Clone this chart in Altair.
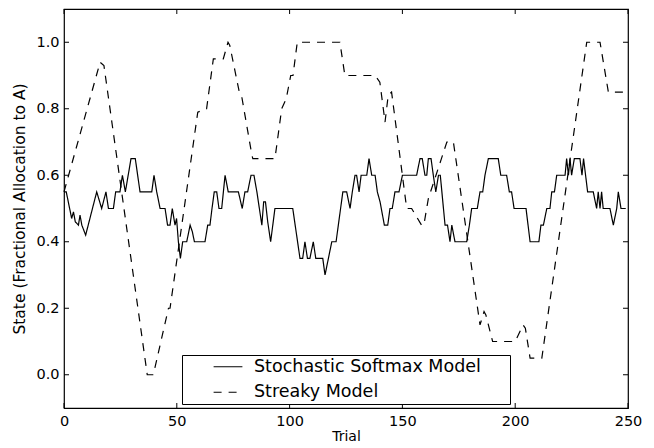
import altair as alt
import pandas as pd

# ---- data ----
series_names = ["Stochastic Softmax Model", "Streaky Model"]

softmax_trial = [0, 1, 2.5, 3.4, 4.2, 5, 6.4, 7.1, 7.9, 9.6, 14.5, 16.7, 18.6, 19.7, 21.9, 22.9,
                 24.8, 25.9, 27.2, 29.7, 31.6, 33.7, 38.9, 39.9, 41.1, 42.6, 44.8, 45.9, 47.0,
                 48.0, 49.2, 49.9, 50.7, 51.6, 52.6, 54.4, 55.9, 56.9, 57.8, 62.5, 63.7, 64.7,
                 65.6, 66.6, 67.7, 68.7, 69.9, 71.4, 72.8, 77.3, 79.0, 80.2, 81.4, 82.9, 84.2,
                 85.5, 86.6, 87.7, 88.5, 89.3, 90.3, 91.6, 93.5, 101.4, 104.6, 105.8, 106.8,
                 107.9, 109.0, 110.5, 111.6, 112.8, 114.7, 115.7, 117.2, 118.7, 120.6, 121.6,
                 123.6, 125.3, 126.8, 127.8, 129.0, 129.7, 130.8, 131.7, 134.2, 135.2, 136.4,
                 137.9, 138.9, 140.1, 142.0, 143.5, 144.5, 145.5, 146.7, 148.5, 150.0, 156.3,
                 157.8, 158.8, 160.0, 160.8, 161.5, 162.7, 163.7, 164.8, 166.0, 166.8, 168.2,
                 168.9, 170.0, 171.1, 171.9, 173.3, 178.5, 179.7, 180.7, 183.2, 184.4, 185.6,
                 186.6, 188.1, 192.5, 193.6, 196.2, 197.4, 198.4, 199.5, 204.8, 206.6, 210.5,
                 211.4, 212.5, 214.0, 215.4, 216.2, 217.4, 218.4, 222.1, 222.8, 223.6, 224.3,
                 225.0, 226.2, 228.7, 229.6, 230.3, 231.2, 232.1, 234.6, 236.1, 236.8, 237.6,
                 238.3, 239.0, 242.0, 243.5, 245.0, 245.7, 246.9, 249.0]
softmax_value = [0.55, 0.55, 0.50, 0.47, 0.49, 0.46, 0.45, 0.48, 0.45, 0.42, 0.55, 0.50, 0.55, 0.50, 0.50, 0.55,
                 0.55, 0.60, 0.55, 0.65, 0.65, 0.55, 0.55, 0.60, 0.55, 0.50, 0.50, 0.45, 0.45,
                 0.50, 0.45, 0.47, 0.40, 0.35, 0.40, 0.40, 0.45, 0.43, 0.40, 0.40, 0.45, 0.45,
                 0.50, 0.55, 0.55, 0.50, 0.50, 0.60, 0.55, 0.55, 0.50, 0.55, 0.55, 0.60, 0.60,
                 0.55, 0.50, 0.45, 0.52, 0.52, 0.46, 0.40, 0.50, 0.50, 0.35, 0.35, 0.40,
                 0.35, 0.35, 0.40, 0.35, 0.35, 0.35, 0.30, 0.35, 0.40, 0.40, 0.45,
                 0.55, 0.55, 0.50, 0.55, 0.60, 0.60, 0.55, 0.60, 0.60, 0.65, 0.60,
                 0.60, 0.55, 0.52, 0.45, 0.45, 0.50, 0.50, 0.55, 0.55, 0.60, 0.60,
                 0.65, 0.65, 0.60, 0.60, 0.65, 0.65, 0.60, 0.55, 0.60, 0.60, 0.50,
                 0.45, 0.45, 0.40, 0.45, 0.40, 0.40, 0.45, 0.50, 0.50, 0.55, 0.55,
                 0.60, 0.65, 0.65, 0.60, 0.60, 0.55, 0.55, 0.50, 0.50, 0.40, 0.40,
                 0.45, 0.45, 0.50, 0.50, 0.55, 0.55, 0.60, 0.60, 0.65, 0.60, 0.65,
                 0.60, 0.65, 0.65, 0.60, 0.65, 0.60, 0.55, 0.55, 0.50, 0.55, 0.50,
                 0.55, 0.50, 0.50, 0.45, 0.50, 0.55, 0.50, 0.50]

streaky_trial = [0, 16.0, 17.7, 36.9, 39.6, 46.3, 47.0, 59.3, 63.2, 66.2, 70.6, 72.7, 73.5, 77.7,
                 78.7, 83.3, 83.7, 93.5, 96.5, 98.5, 100.5, 101.5, 103.4, 122.3, 124.5, 137.9,
                 140.0, 142.3, 143.7, 145.2, 151.9, 154.1, 158.5, 159.5, 161.5, 167.3, 169.7,
                 172.6, 184.4, 186.2, 187.0, 190.0, 200.0, 203.5, 204.5, 206.6, 211.8, 231.7,
                 237.6, 241.3, 249.0]
streaky_value = [0.55, 0.94, 0.93, 0.00, 0.00, 0.20, 0.20, 0.79, 0.80, 0.95, 0.95, 1.00, 0.99, 0.85,
                 0.84, 0.66, 0.65, 0.65, 0.80, 0.83, 0.90, 0.90, 1.00, 1.00, 0.90, 0.90,
                 0.88, 0.76, 0.84, 0.85, 0.50, 0.50, 0.45, 0.45, 0.53, 0.65, 0.70,
                 0.70, 0.15, 0.19, 0.18, 0.10, 0.10, 0.15, 0.14, 0.05, 0.05, 1.00,
                 1.00, 0.85, 0.85]

x_ticks = [0, 50, 100, 150, 200, 250]
y_ticks = [0.0, 0.2, 0.4, 0.6, 0.8, 1.0]

W, H = 564, 399
FONT = "DejaVu Sans"

df = pd.concat([
    pd.DataFrame({"trial": softmax_trial, "value": softmax_value, "series": series_names[0]}),
    pd.DataFrame({"trial": streaky_trial, "value": streaky_value, "series": series_names[1]}),
], ignore_index=True)

xscale = alt.Scale(domain=[0, 250], nice=False, zero=False)
yscale = alt.Scale(domain=[-0.1, 1.1], nice=False, zero=False)

xaxis = alt.Axis(values=x_ticks, title="Trial", ticks=False, tickSize=0, grid=False,
                 labelPadding=6, titlePadding=2, domain=False, labelFlush=False,
                 labelFontSize=14.5, titleFontSize=14, labelFont=FONT, titleFont=FONT,
                 titleFontWeight="normal", labelColor="black", titleColor="black")
yaxis = alt.Axis(values=y_ticks, format=".1f", title="State (Fractional Allocation to A)",
                 ticks=False, tickSize=0, grid=False, labelPadding=5, titlePadding=8,
                 domain=False, labelFlush=False, labelFontSize=14.5, titleFontSize=15.5,
                 labelFont=FONT, titleFont=FONT, titleFontWeight="normal", labelColor="black",
                 titleColor="black")

lines = alt.Chart(df).mark_line(color="black", strokeWidth=1.2, interpolate="linear").encode(
    x=alt.X("trial:Q", scale=xscale, axis=xaxis),
    y=alt.Y("value:Q", scale=yscale, axis=yaxis),
    strokeDash=alt.StrokeDash("series:N",
                              scale=alt.Scale(domain=series_names, range=[[1, 0], [8, 7]]),
                              legend=alt.Legend(orient="none", legendX=118, legendY=346, title=None,
                                                strokeColor="black", fillColor="white", padding=3,
                                                symbolType="M-1.8,0L1.8,0", symbolSize=256,
                                                symbolStrokeWidth=1.2, symbolStrokeColor="black",
                                                symbolOffset=34, labelOffset=17, rowPadding=6.5,
                                                labelFontSize=17.5, labelFont=FONT, labelColor="black",
                                                labelLimit=500, clipHeight=17.5,
                                                labelExpr="datum.label + '\u2800\u2800'")),
    order="trial:Q",
)

xt = pd.DataFrame({"trial": x_ticks})
yt = pd.DataFrame({"value": y_ticks})

tick_bottom = alt.Chart(xt).mark_rule(color="black", strokeWidth=1).encode(
    x=alt.X("trial:Q", scale=xscale, axis=xaxis), y=alt.value(H), y2=alt.value(H - 5))
tick_top = alt.Chart(xt).mark_rule(color="black", strokeWidth=1).encode(
    x=alt.X("trial:Q", scale=xscale, axis=xaxis), y=alt.value(0), y2=alt.value(5))
tick_left = alt.Chart(yt).mark_rule(color="black", strokeWidth=1).encode(
    y=alt.Y("value:Q", scale=yscale, axis=yaxis), x=alt.value(0), x2=alt.value(5))
tick_right = alt.Chart(yt).mark_rule(color="black", strokeWidth=1).encode(
    y=alt.Y("value:Q", scale=yscale, axis=yaxis), x=alt.value(W), x2=alt.value(W - 5))

chart = alt.layer(lines, tick_bottom, tick_top, tick_left, tick_right).properties(
    width=W, height=H,
    autosize=alt.AutoSizeParams(type="none"),
    padding={"left": 56, "top": 1, "right": 17, "bottom": 38},
    background="white",
).configure_view(stroke="black", strokeWidth=1.2)

chart.save("out.html", embed_options={"renderer": "svg", "actions": False})
